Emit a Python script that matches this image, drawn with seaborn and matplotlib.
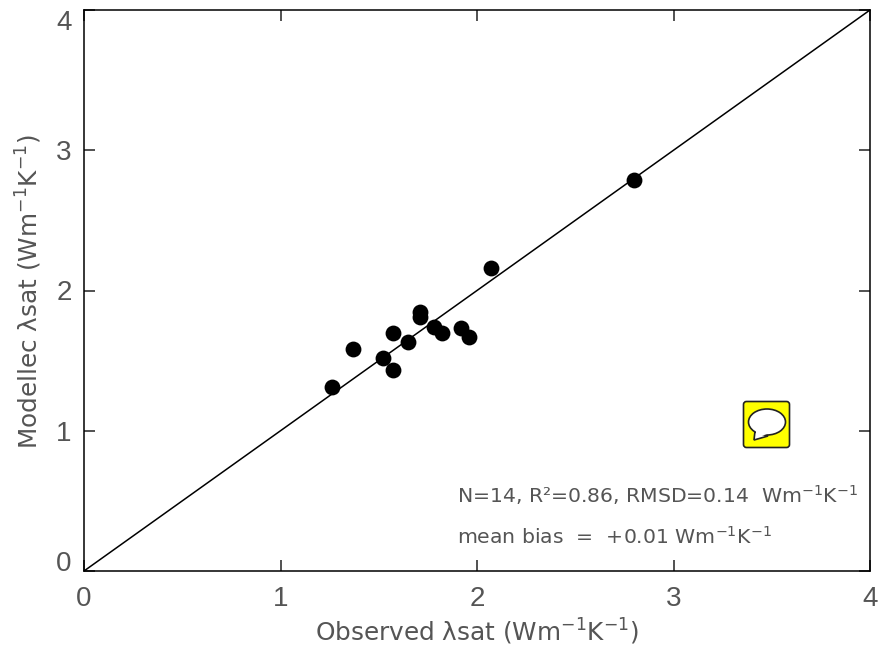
import matplotlib
matplotlib.use("Agg")
import matplotlib.pyplot as plt
import pandas as pd
import seaborn as sns
from matplotlib.patches import Ellipse, FancyBboxPatch, Polygon
from matplotlib.transforms import Affine2D

# Values
observed = [1.26, 1.37, 1.52, 1.57, 1.57, 1.65, 1.71, 1.71, 1.78, 1.82, 1.92, 1.96, 2.07, 2.80]
modelled = [1.31, 1.58, 1.52, 1.43, 1.70, 1.63, 1.85, 1.81, 1.74, 1.70, 1.73, 1.67, 2.16, 2.79]
line_ends = [0, 4]
ticks = [0, 1, 2, 3, 4]
x_title = "Observed λsat (Wm$^{-1}$K$^{-1}$)"
y_title = "Modellec λsat (Wm$^{-1}$K$^{-1}$)"
stats_line = "N=14, R²=0.86, RMSD=0.14  Wm$^{-1}$K$^{-1}$"
bias_line = "mean bias  =  +0.01 Wm$^{-1}$K$^{-1}$"

sns.set_theme(style="ticks")
plt.rcParams["font.family"] = ["DejaVu Sans"]
plt.rcParams["mathtext.default"] = "regular"

W, H = 880, 650
text_color = "#555555"

fig = plt.figure(figsize=(W / 100, H / 100), dpi=100)
ax = fig.add_axes([84 / W, (H - 571) / H, 786 / W, 561 / H])

# 1:1 line and the stations
sns.lineplot(x=line_ends, y=line_ends, color="black", lw=1.1, ax=ax)
df = pd.DataFrame({"observed": observed, "modelled": modelled})
sns.scatterplot(data=df, x="observed", y="modelled", color="black", s=130,
                linewidth=0, ax=ax, zorder=3)

ax.set_xlim(0, 4)
ax.set_ylim(0, 4)
ax.set_xticks(ticks)
ax.set_yticks(ticks)
ax.tick_params(direction="in", length=8, width=1.1, color="#222222", top=True, right=True,
               labelsize=20, labelcolor=text_color, labelfontfamily="Liberation Sans")
ax.tick_params(axis="x", pad=11)
ax.tick_params(axis="y", pad=9)
for spine in ax.spines.values():
    spine.set_linewidth(1.1)
    spine.set_color("black")
    spine.set_visible(True)

# end labels on the y axis sit inside the frame, as in the original
y_labels = ax.get_yticklabels()
y_labels[0].set_va("baseline")
y_labels[-1].set_va("top")

ax.set_xlabel(x_title, fontsize=17.8, color=text_color, labelpad=3)
ax.set_ylabel(y_title, fontsize=17.8, color=text_color)
ax.yaxis.set_label_coords(-0.051, 0.498)

ax.text(457 / W, (H - 503) / H, stats_line, transform=fig.transFigure, fontsize=14.7,
        color=text_color, va="baseline")
ax.text(457 / W, (H - 544) / H, bias_line, transform=fig.transFigure, fontsize=14.7,
        color=text_color, va="baseline")

# Yellow comment icon, placed in pixel space
icon = Affine2D().scale(1 / W, -1 / H).translate(0, 1) + fig.transFigure
fig.add_artist(FancyBboxPatch((746, 404), 41, 41, boxstyle="round,pad=2.5,rounding_size=3",
                              facecolor="#ffff00", edgecolor="#222222", lw=1.2, transform=icon))
fig.add_artist(Polygon([(755, 431), (754, 440), (768, 436)], closed=True, facecolor="white",
                       edgecolor="#222222", lw=1.2, transform=icon))
fig.add_artist(Ellipse((767, 422), 37, 26, facecolor="white", edgecolor="#222222", lw=1.2,
                       transform=icon))
fig.add_artist(Polygon([(756, 430), (756, 438), (767, 434)], closed=True, facecolor="white",
                       edgecolor="none", transform=icon))

fig.savefig("out.png", dpi=100)
